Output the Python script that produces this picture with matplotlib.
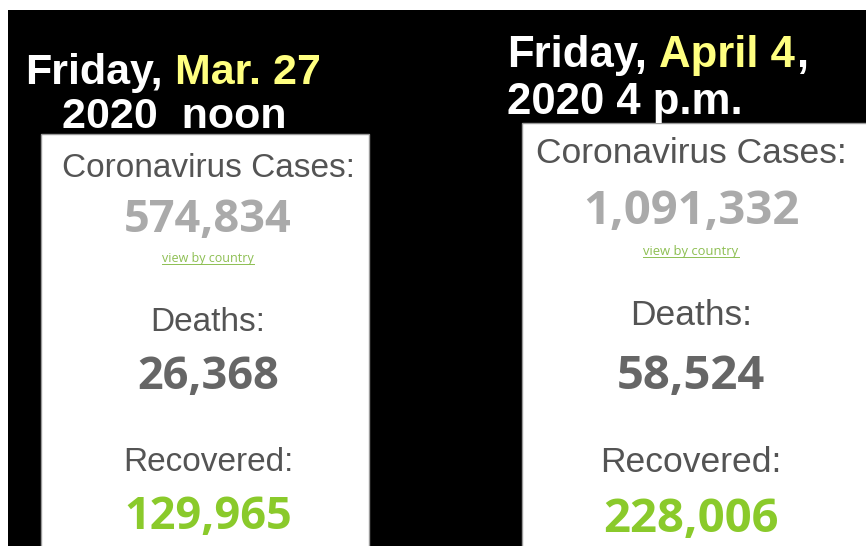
"""Worldometer snapshots: Mar. 27 noon vs April 4 4 p.m. (2020)."""
import matplotlib
matplotlib.use("Agg")
import matplotlib.pyplot as plt
from matplotlib.patches import Rectangle

# --- data -------------------------------------------------------------
day_names = ["Friday,", "Friday,"]
dates = ["Mar. 27", "April 4"]
date_tails = ["", ","]
second_lines = ["2020  noon", "2020 4 p.m."]
labels = ["Coronavirus Cases:", "Deaths:", "Recovered:"]
cases = [574834, 1091332]
deaths = [26368, 58524]
recovered = [129965, 228006]
link_text = "view by country"

# --- style ------------------------------------------------------------
W, H = 866, 546
BG = "black"
YELLOW = "#ffff80"
LABEL_C = "#545454"
CASES_C = "#aaaaaa"
DEATHS_C = "#666666"
REC_C = "#8aca2b"
LINK_C = "#8dbf52"
TITLE_FONT = ["Liberation Sans", "DejaVu Sans"]
NUM_FONT = ["Open Sans", "DejaVu Sans"]

# per-panel geometry (pixels, y down)
PANELS = [
    dict(x0=41, x1=369, top=134, cx=208, t1=(25, 84), t2=(62, 128), tsize=31,
         lsize=24, nsize=32.5, vsize=9.0,
         ys=[177, 232, 262, 331, 389, 471, 529]),
    dict(x0=522, x1=872, top=123, cx=691, t1=(507, 67), t2=(507, 114), tsize=31.5,
         lsize=25.5, nsize=34, vsize=9.4,
         ys=[163, 224, 255, 325, 389, 472, 532]),
]


def _right_edge(fig, ax, txt):
    fig.canvas.draw()
    bb = txt.get_window_extent().transformed(ax.transData.inverted())
    return bb.x1


def draw_title(fig, ax, p, i):
    x, y = p["t1"]
    kw = dict(fontsize=p["tsize"], fontweight="bold", family=TITLE_FONT,
              ha="left", va="baseline", zorder=5)
    space = p["tsize"] * 100 / 72 * 0.278
    t = ax.text(x, y, day_names[i], color="white", **kw)
    xe = _right_edge(fig, ax, t) + space
    t = ax.text(xe, y, dates[i], color=YELLOW, **kw)
    if date_tails[i]:
        xe = _right_edge(fig, ax, t) + 1
        ax.text(xe, y, date_tails[i], color="white", **kw)
    x2, y2 = p["t2"]
    ax.text(x2, y2, second_lines[i], color="white", **kw)


def draw_panel(ax, p, i):
    ax.add_patch(Rectangle((p["x0"], p["top"]), p["x1"] - p["x0"], H - p["top"] + 5,
                           facecolor="white", edgecolor="#9a9a9a", linewidth=1.0, zorder=2))
    cx, ys = p["cx"], p["ys"]
    lab = dict(fontsize=p["lsize"], family=TITLE_FONT, color=LABEL_C,
               ha="center", va="baseline", zorder=4)
    num = dict(fontsize=p["nsize"], family=NUM_FONT, fontweight="bold",
               ha="center", va="baseline", zorder=4)
    ax.text(cx, ys[0], labels[0], **lab)
    ax.text(cx, ys[1], f"{cases[i]:,}", color=CASES_C, **num)
    link = ax.text(cx, ys[2], link_text, fontsize=p["vsize"], family=NUM_FONT,
                   color=LINK_C, ha="center", va="baseline", zorder=4)
    ax.text(cx, ys[3], labels[1], **lab)
    ax.text(cx, ys[4], f"{deaths[i]:,}", color=DEATHS_C, **num)
    ax.text(cx, ys[5], labels[2], **lab)
    ax.text(cx, ys[6], f"{recovered[i]:,}", color=REC_C, **num)
    return link


def underline(fig, ax, txt):
    fig.canvas.draw()
    bb = txt.get_window_extent().transformed(ax.transData.inverted())
    y = max(bb.y0, bb.y1) - 1
    ax.plot([bb.x0, bb.x1], [y, y], color=LINK_C, linewidth=0.7, zorder=4)


def main():
    fig = plt.figure(figsize=(W / 100, H / 100), dpi=100, facecolor="white")
    ax = fig.add_axes([0, 0, 1, 1])
    ax.set_xlim(0, W)
    ax.set_ylim(H, 0)
    ax.axis("off")
    ax.add_patch(Rectangle((8, 10), W, H, facecolor=BG, edgecolor="none", zorder=1))
    links = []
    for i, p in enumerate(PANELS):
        links.append(draw_panel(ax, p, i))
        draw_title(fig, ax, p, i)
    for t in links:
        underline(fig, ax, t)
    fig.savefig("out.png", dpi=100, facecolor="white")


if __name__ == "__main__":
    main()
